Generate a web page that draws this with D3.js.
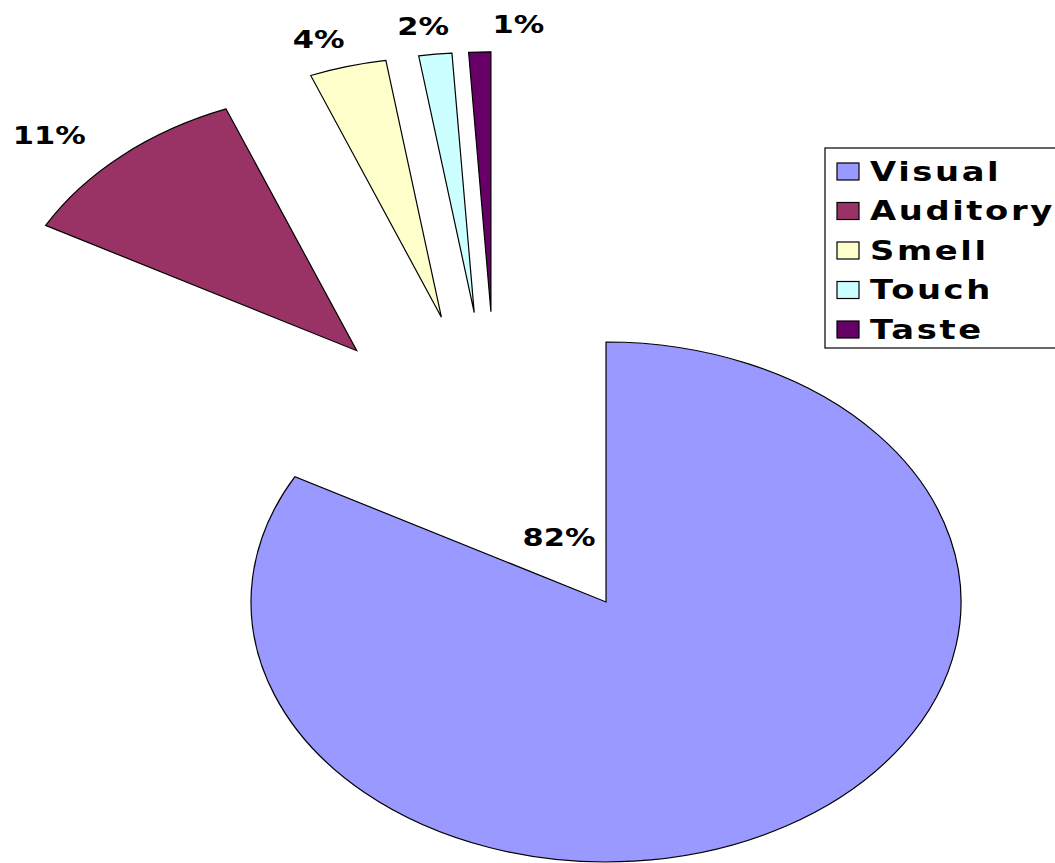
<!DOCTYPE html>
<html lang="en"><head>
<meta charset="utf-8">
<title>Senses pie</title>
<script src="https://cdn.jsdelivr.net/npm/d3@7"></script>
<style>
  body { margin: 0; background: #fff; }
  svg { display: block; }
  text { font-family: "DejaVu Sans", Verdana, sans-serif; font-weight: bold; fill: #000; }
</style>
</head>
<body>
<div id="chart"></div>
<script>

// data
var categories = ["Visual", "Auditory", "Smell", "Touch", "Taste"];
var values = [83, 11, 3.5, 1.5, 1];
var pctLabels = ["82%", "11%", "4%", "2%", "1%"];
var colors = ["#9999ff", "#993366", "#ffffcc", "#ccffff", "#660066"];

var width = 1055;
var height = 863;

// the pie is drawn stretched (wider than tall)
var rx = 355, ry = 260;
var cx = 497.6, cy = 467.7;
var explode = 0.6;
var textStretch = 1.22;

var svg = d3.select("#chart").append("svg")
    .attr("width", width)
    .attr("height", height);

var pie = d3.pie().sort(null).value(function (d) { return d; });
var arc = d3.arc().innerRadius(0).outerRadius(ry);
var slices = pie(values);

function dir(d) {
  var mid = (d.startAngle + d.endAngle) / 2;
  return [Math.sin(mid), -Math.cos(mid)];
}

svg.selectAll("path.slice").data(slices).enter().append("path")
    .attr("class", "slice")
    .attr("d", arc)
    .attr("fill", function (d, i) { return colors[i]; })
    .attr("stroke", "#000")
    .attr("stroke-width", 1.2)
    .attr("vector-effect", "non-scaling-stroke")
    .attr("transform", function (d) {
      var u = dir(d);
      var x = cx + explode * rx * u[0];
      var y = cy + explode * ry * u[1];
      return "translate(" + x + "," + y + ") scale(" + (rx / ry) + ",1)";
    });

// data labels: big slice inside, the rest outside
var labelPos = slices.map(function (d, i) {
  var u = dir(d);
  var w = 60 * textStretch;
  if (d.data > 50) {
    return {x: cx + 0.34 * rx * u[0], y: cy + 0.31 * ry * u[1], w: w, i: i};
  }
  return {x: cx + 1.67 * rx * u[0] + 85 * u[0], y: cy + 1.67 * ry * u[1] + 10 * u[1], w: w, i: i};
});

// keep the top labels apart
var outer = labelPos.filter(function (p) { return values[p.i] <= 50; })
    .sort(function (a, b) { return a.x - b.x; });
for (var k = 1; k < outer.length; k++) {
  var prev = outer[k - 1], cur = outer[k];
  var minX = prev.x + prev.w / 2 + 22 + cur.w / 2;
  if (prev.y < 100 && cur.y < 100 && cur.x < minX) cur.x = minX;
}

svg.selectAll("text.pct").data(labelPos).enter().append("text")
    .attr("class", "pct")
    .attr("text-anchor", "middle")
    .attr("font-size", 25)
    .attr("transform", function (p) {
      return "translate(" + p.x + "," + (p.y + 9) + ") scale(" + textStretch + ",1)";
    })
    .text(function (p) { return pctLabels[p.i]; });

// legend
var legend = svg.append("g").attr("transform", "translate(825,148)");
legend.append("rect")
    .attr("x", 0).attr("y", 0)
    .attr("width", 240).attr("height", 200)
    .attr("fill", "#fff")
    .attr("stroke", "#000")
    .attr("stroke-width", 1.2);

var rowY = d3.scalePoint().domain(categories).range([23.5, 181.5]);

var item = legend.selectAll("g.item").data(categories).enter().append("g")
    .attr("class", "item")
    .attr("transform", function (d) { return "translate(0," + rowY(d) + ")"; });

item.append("rect")
    .attr("x", 12).attr("y", -8.5)
    .attr("width", 22).attr("height", 17)
    .attr("fill", function (d, i) { return colors[i]; })
    .attr("stroke", "#000")
    .attr("stroke-width", 1.2);

item.append("text")
    .attr("font-size", 26)
    .attr("letter-spacing", 2)
    .attr("transform", "translate(45,9) scale(1.3,1)")
    .text(function (d) { return d; });

</script>
</body></html>
